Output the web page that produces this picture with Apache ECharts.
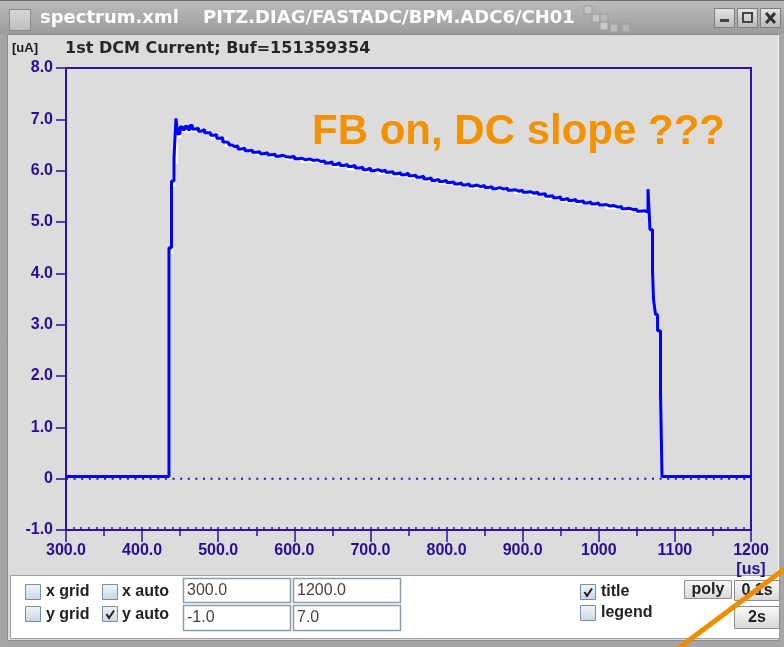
<!DOCTYPE html>
<html><head><meta charset="utf-8">
<script src="https://cdn.jsdelivr.net/npm/echarts@6/dist/echarts.min.js"></script>
<style>html,body{margin:0;padding:0;background:#a8a8a8}#c{width:784px;height:647px}</style>
</head><body><div id="c"></div>
<script>
// ---- data ----
const timeUs = [300, 435.3, 438.6, 441.9, 444.5, 446.5, 449.8, 453, 456, 460, 463, 466, 470, 474, 478, 482, 486, 490, 494, 498,
  502, 506, 510, 514, 518, 522, 526, 530, 535, 540, 545, 550, 555, 560, 565, 570, 575, 580, 585, 590,
  595, 600, 605, 610, 615, 620, 625, 630, 635, 640, 645, 650, 655, 660, 665, 670, 675, 680, 685, 690,
  695, 700, 705, 710, 715, 720, 725, 730, 735, 740, 745, 750, 755, 760, 765, 770, 775, 780, 785, 790,
  795, 800, 805, 810, 815, 820, 825, 830, 835, 840, 845, 850, 855, 860, 865, 870, 875, 880, 885, 890,
  895, 900, 905, 910, 915, 920, 925, 930, 935, 940, 945, 950, 955, 960, 965, 970, 975, 980, 985, 990,
  995, 1000, 1005, 1010, 1015, 1020, 1025, 1030, 1035, 1040, 1045, 1050, 1055, 1060,
  1064.7, 1067.3, 1070.6, 1071.9, 1074.5, 1077.2, 1081.1, 1083.1, 1200];
const currentUA = [0.04, 4.5, 5.8, 6.25, 7.02, 6.72, 6.85, 6.80, 6.86, 6.80, 6.88, 6.81, 6.83, 6.77, 6.80, 6.74, 6.74, 6.69, 6.70, 6.63,
  6.64, 6.56, 6.54, 6.50, 6.47, 6.48, 6.42, 6.44, 6.39, 6.40, 6.36, 6.37, 6.33, 6.35, 6.31, 6.32, 6.28, 6.30, 6.27, 6.26,
  6.28, 6.23, 6.24, 6.21, 6.23, 6.20, 6.21, 6.18, 6.19, 6.15, 6.17, 6.12, 6.15, 6.10, 6.12, 6.08, 6.10, 6.05, 6.07, 6.02,
  6.05, 6.00, 6.02, 5.99, 6.01, 5.97, 5.98, 5.94, 5.96, 5.92, 5.95, 5.90, 5.91, 5.87, 5.89, 5.84, 5.86, 5.81, 5.83, 5.79,
  5.81, 5.77, 5.78, 5.74, 5.76, 5.72, 5.74, 5.70, 5.72, 5.69, 5.71, 5.67, 5.69, 5.65, 5.67, 5.64, 5.66, 5.62, 5.63, 5.60,
  5.62, 5.58, 5.59, 5.56, 5.58, 5.54, 5.55, 5.50, 5.51, 5.47, 5.49, 5.44, 5.46, 5.42, 5.44, 5.40, 5.41, 5.37, 5.39, 5.35,
  5.37, 5.33, 5.34, 5.31, 5.32, 5.29, 5.30, 5.26, 5.27, 5.24, 5.25, 5.21, 5.22, 5.19,
  5.64, 4.85, 4.05, 3.5, 3.2, 2.88, 1.67, 0.04, 0.04];
const refTimeUs = [436, 439.5, 442.5, 445.5, 450, 470, 490, 510, 530, 550, 570, 590, 610, 630, 650, 670, 690, 710, 730,
  750, 770, 790, 810, 830, 850, 870, 890, 910, 930, 950, 970, 990, 1010, 1030, 1050, 1062, 1066];
const refCurrentUA = [4.4, 5.7, 6.15, 6.65, 6.77, 6.76, 6.63, 6.48, 6.38, 6.32, 6.27, 6.22, 6.17, 6.14, 6.08, 6.03, 5.98, 5.94, 5.90,
  5.86, 5.80, 5.75, 5.70, 5.66, 5.63, 5.60, 5.56, 5.52, 5.46, 5.40, 5.36, 5.31, 5.27, 5.22, 5.17, 5.15, 5.15];
const xTickValues = [300, 400, 500, 600, 700, 800, 900, 1000, 1100, 1200];
const xTickLabels = ['300.0', '400.0', '500.0', '600.0', '700.0', '800.0', '900.0', '1000', '1100', '1200'];
const yTickValues = [-1, 0, 1, 2, 3, 4, 5, 6, 7, 8];
const yTickLabels = ['-1.0', '0', '1.0', '2.0', '3.0', '4.0', '5.0', '6.0', '7.0', '8.0'];

// ---- styles ----
const AX = '#3010a0';
const LBL = '#2a0c96';
const labelFont = {fontFamily: 'Liberation Sans', fontWeight: 'bold', fontSize: 16, color: LBL};
const xLab = v => { const i = xTickValues.indexOf(Math.round(v)); return i >= 0 ? xTickLabels[i] : ''; };
const yLab = v => { const i = yTickValues.indexOf(Math.round(v)); return i >= 0 ? yTickLabels[i] : ''; };
const baseX = {type: 'value', min: 300, max: 1200, position: 'bottom', splitLine: {show: false}};

function txt(text, x, y, font, fill, align, z) {
  return {type: 'text', z: z || 50, style: {text, x, y, font, fill, textAlign: align || 'left', textVerticalAlign: 'middle'}};
}
function rect(x, y, w, h, fill, stroke, lw, z) {
  return {type: 'rect', z: z == null ? -10 : z, shape: {x, y, width: w, height: h}, style: {fill, stroke: stroke || null, lineWidth: lw || 1}};
}
function grad(a, b) { return {type: 'linear', x: 0, y: 0, x2: 0, y2: 1, colorStops: [{offset: 0, color: a}, {offset: 1, color: b}]}; }
function checkbox(x, y, checked) {
  const els = [rect(x, y, 15, 15, grad('#f2f6fa', '#c9d5e3'), '#7d8da0', 1, 60)];
  if (checked) els.push({type: 'polyline', z: 61, shape: {points: [[x + 4, y + 7.5], [x + 6.5, y + 11.5], [x + 11.5, y + 4]]}, style: {stroke: '#222', lineWidth: 2, fill: null}});
  return els;
}
function button(x, y, w, h, label) {
  return [rect(x, y, w, h, grad('#fbfbfb', '#d6d6d6'), '#8e8e8e', 1, 60),
    txt(label, x + w / 2, y + h / 2 + 0.5, 'bold 16px "Liberation Sans"', '#222', 'center', 61)];
}
const uiFont = 'bold 16px "Liberation Sans"';
const fieldFont = '16px "Liberation Sans"';

const graphics = [
  // window frame
  rect(0, 0, 784, 647, '#a6a6a6', null, 1, -20),
  rect(0, 0, 784, 34, grad('#bcbcbc', '#9c9c9c'), null, 1, -15),
  {type: 'line', z: -14, shape: {x1: 0, y1: 0.5, x2: 784, y2: 0.5}, style: {stroke: '#6e6e6e', lineWidth: 1}},
  rect(9.5, 9.5, 21, 21, grad('#d8d8d8', '#bdbdbd'), '#8a8a8a', 1, -14),
  // title bar decorative blocks
  rect(584, 6, 8, 8, '#c6c6c6', '#9a9a9a', 1, -14), rect(592, 14, 8, 8, '#c6c6c6', '#9a9a9a', 1, -14),
  rect(600, 14, 8, 8, '#b9b9b9', '#9a9a9a', 1, -14), rect(600, 22, 8, 8, '#c6c6c6', '#9a9a9a', 1, -14),
  rect(610, 24, 8, 8, '#bdbdbd', '#9a9a9a', 1, -14), rect(622, 24, 8, 8, '#b4b4b4', '#9a9a9a', 1, -14),
  // title bar buttons
  rect(714.5, 8.5, 20, 19, grad('#e6e6e6', '#b8b8b8'), '#7e7e7e', 1, -14),
  rect(737.5, 8.5, 20, 19, grad('#e6e6e6', '#b8b8b8'), '#7e7e7e', 1, -14),
  rect(760.5, 8.5, 20, 19, grad('#e6e6e6', '#b8b8b8'), '#7e7e7e', 1, -14),
  rect(720, 19, 9, 3, '#444', null, 1, -13),
  rect(743, 13, 9, 9, null, '#444', 2, -13),
  {type: 'polyline', z: -13, shape: {points: [[766, 13], [775, 23]]}, style: {stroke: '#333', lineWidth: 3, fill: null}},
  {type: 'polyline', z: -13, shape: {points: [[775, 13], [766, 23]]}, style: {stroke: '#333', lineWidth: 3, fill: null}},
  txt('spectrum.xml', 40, 18, 'bold 18px "DejaVu Sans"', '#ffffff', 'left', -12),
  txt('PITZ.DIAG/FASTADC/BPM.ADC6/CH01', 203, 18, 'bold 18px "DejaVu Sans"', '#ffffff', 'left', -12),
  // content area
  rect(7.5, 34.5, 771, 606, '#dcdcdc', '#8c8c8c', 1, -15),
  {type: 'line', z: -14, shape: {x1: 778.5, y1: 35, x2: 778.5, y2: 575}, style: {stroke: '#f4f4f4', lineWidth: 1}},
  // bottom control panel
  rect(10.5, 575.5, 769, 63, '#ffffff', '#9aa0a8', 1, 40),
  rect(7, 641, 777, 6, '#a6a6a6', null, 1, 40),
  // chart texts
  txt('[uA]', 12, 48.5, 'bold 13px "Liberation Sans"', '#1a1a1a', 'left', 50),
  txt('1st DCM Current; Buf=151359354', 65, 49, 'bold 16px "DejaVu Sans"', '#262626', 'left', 50),
  txt('[us]', 751, 569.5, 'bold 16px "Liberation Sans"', LBL, 'center', 50),
  txt('FB on, DC slope ???', 312, 132, 'bold 42px "Liberation Sans"', '#f39200', 'left', 50),
  // controls
  ...checkbox(25.5, 584.5, false), txt('x grid', 46, 592, uiFont, '#222', 'left', 61),
  ...checkbox(102.5, 584.5, false), txt('x auto', 122, 592, uiFont, '#222', 'left', 61),
  ...checkbox(25.5, 606.5, false), txt('y grid', 46, 615, uiFont, '#222', 'left', 61),
  ...checkbox(102.5, 606.5, true), txt('y auto', 122, 615, uiFont, '#222', 'left', 61),
  rect(183.5, 578.5, 107, 24, '#ffffff', '#8d9bb0', 1.5, 60), txt('300.0', 187, 591, fieldFont, '#444', 'left', 61),
  rect(293.5, 578.5, 107, 24, '#ffffff', '#8d9bb0', 1.5, 60), txt('1200.0', 297, 591, fieldFont, '#444', 'left', 61),
  rect(183.5, 605.5, 107, 25, '#ffffff', '#8d9bb0', 1.5, 60), txt('-1.0', 187, 618, fieldFont, '#444', 'left', 61),
  rect(293.5, 605.5, 107, 25, '#ffffff', '#8d9bb0', 1.5, 60), txt('7.0', 297, 618, fieldFont, '#444', 'left', 61),
  ...checkbox(580.5, 584.5, true), txt('title', 601, 592, uiFont, '#222', 'left', 61),
  ...checkbox(580.5, 605.5, false), txt('legend', 601, 613, uiFont, '#222', 'left', 61),
  ...button(684.5, 580.5, 47, 18, 'poly'),
  ...button(734.5, 580.5, 45, 20, '0.1s'),
  ...button(734.5, 606.5, 45, 22, '2s'),
  // orange annotation stroke
  {type: 'line', z: 200, shape: {x1: 790, y1: 565, x2: 676, y2: 650}, style: {stroke: '#f08c00', lineWidth: 5}}
];

const chart = echarts.init(document.getElementById('c'), null, {renderer: 'canvas'});
chart.setOption({
  animation: false,
  backgroundColor: 'transparent',
  grid: {left: 66, right: 33, top: 68, bottom: 117, show: true, borderColor: AX, borderWidth: 2, backgroundColor: 'transparent', containLabel: false},
  xAxis: [
    Object.assign({}, baseX, {interval: 100,
      axisLine: {show: true, onZero: false, lineStyle: {color: AX, width: 2}},
      axisTick: {show: true, length: 12, lineStyle: {color: AX, width: 1.5}},
      axisLabel: Object.assign({show: true, margin: 13, formatter: xLab, hideOverlap: false, showMinLabel: true, showMaxLabel: true}, labelFont)}),
    Object.assign({}, baseX, {interval: 50,
      axisLine: {show: false, onZero: false}, axisTick: {show: true, length: 6, lineStyle: {color: AX, width: 1.5}}, axisLabel: {show: false}}),
    Object.assign({}, baseX, {interval: 10,
      axisLine: {show: false, onZero: false}, axisTick: {show: true, inside: true, length: 3, lineStyle: {color: AX, width: 1.5}}, axisLabel: {show: false}})
  ],
  yAxis: [{type: 'value', min: -1, max: 8, interval: 1, position: 'left', splitLine: {show: false},
    axisLine: {show: true, onZero: false, lineStyle: {color: AX, width: 2}},
    axisTick: {show: true, length: 10, lineStyle: {color: AX, width: 1.5}},
    axisLabel: Object.assign({show: true, margin: 13, formatter: yLab, showMinLabel: true, showMaxLabel: true}, labelFont)}],
  graphic: {elements: graphics},
  series: [
    {type: 'line', name: 'zero', data: [[300, 0], [1200, 0]], showSymbol: false, silent: true, z: 2,
      lineStyle: {color: AX, width: 2, type: [2, 5.61]}},
    {type: 'line', name: 'reference', data: refTimeUs.map((t, i) => [t, refCurrentUA[i]]), step: 'end', showSymbol: false, z: 3,
      lineStyle: {color: '#ffffff', width: 2}},
    {type: 'line', name: '1st DCM Current', data: timeUs.map((t, i) => [t, currentUA[i]]), step: 'end', showSymbol: false, z: 4,
      lineStyle: {color: '#0000ff', width: 3}}
  ]
});
</script></body></html>
